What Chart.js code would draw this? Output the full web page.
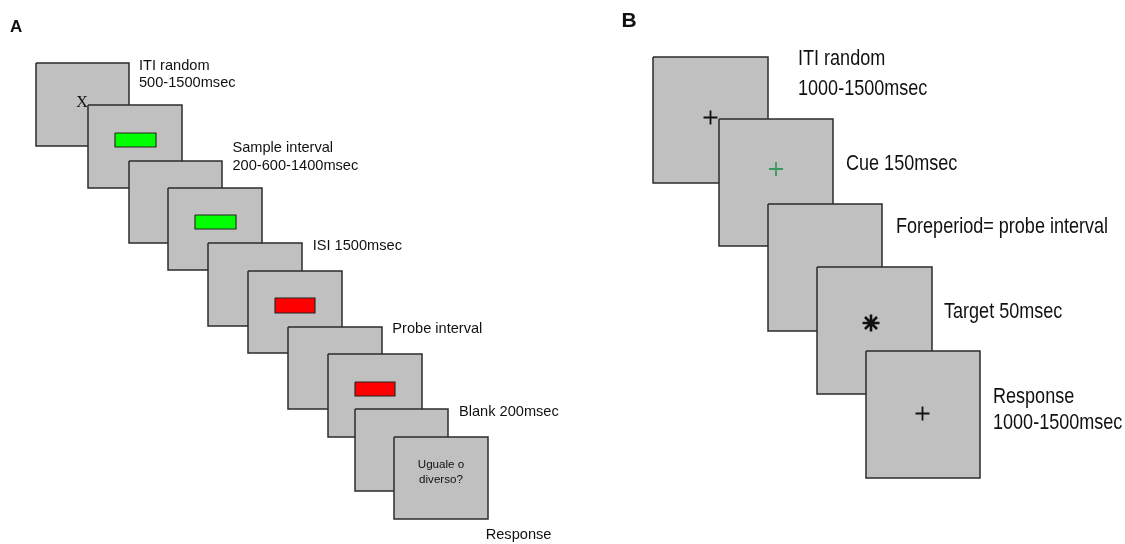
<!DOCTYPE html>
<html><head><meta charset="utf-8">
<script src="https://cdn.jsdelivr.net/npm/chart.js@4/dist/chart.umd.min.js"></script>
<style>html,body{margin:0;padding:0;background:#fff}#wrap{width:1125px;height:544px;position:relative}</style>
</head><body><div id="wrap"><canvas id="c"></canvas></div>
<script>
// ---- Panel A: trial screens (back to front) ----
const screensA_left   = [36, 88, 129, 168, 208, 248, 288, 328, 355, 394];
const screensA_top    = [63, 105, 161, 188, 243, 271, 327, 354, 409, 437];
const screensA_right  = [129, 182, 222, 262, 302, 342, 382, 422, 448, 488];
const screensA_bottom = [146, 188, 243, 270, 326, 353, 409, 437, 491, 519];
// coloured stimulus bars (screen index they sit on)
const barsA_screen = [1, 3, 5, 7];
const barsA_left   = [115, 195, 275, 355];
const barsA_top    = [133, 215, 298, 382];
const barsA_right  = [156, 236, 315, 395];
const barsA_bottom = [147, 229, 313, 396];
const barsA_color  = ['#00ff00', '#00ff00', '#ff0000', '#ff0000'];
const labelsA   = ['ITI random', '500-1500msec', 'Sample interval', '200-600-1400msec', 'ISI 1500msec', 'Probe interval', 'Blank 200msec', 'Response'];
const labelsA_x = [139, 139, 232.5, 232.5, 312.7, 392.3, 459, 485.7];
const labelsA_y = [70, 87, 152, 169.5, 250, 333, 415.5, 539];

// ---- Panel B: trial screens (back to front) ----
const screensB_left   = [653, 719, 768, 817, 866];
const screensB_top    = [57, 119, 204, 267, 351];
const screensB_right  = [768, 833, 882, 932, 980];
const screensB_bottom = [183, 246, 331, 394, 478];
const markersB_screen = [0, 1, 3, 4];
const markersB_x      = [710.5, 776, 871, 922.5];
const markersB_y      = [117.5, 169, 323, 413.5];
const markersB_style  = ['cross', 'cross', 'star', 'cross'];
const markersB_color  = ['#111111', '#3a9a5e', '#111111', '#111111'];
const labelsB   = ['ITI random', '1000-1500msec', 'Cue 150msec', 'Foreperiod= probe interval', 'Target 50msec', 'Response', '1000-1500msec'];
const labelsB_x = [798, 798, 846, 896, 944, 993, 993];
const labelsB_y = [65, 95, 170, 233, 318, 403, 429];

function rect(l, t, r, b) {
  return [{x:l,y:t},{x:r,y:t},{x:r,y:b},{x:l,y:b},{x:l,y:t}];
}

// build datasets back-to-front
const layers = [];
function screenDs(l,t,r,b) {
  return {type:'line', data: rect(l,t,r,b), fill:'shape', backgroundColor:'#c0c0c0',
    borderColor:'#2b2b2b', borderWidth:1.5, pointRadius:0, tension:0, borderJoinStyle:'miter'};
}
for (let i = 0; i < screensA_left.length; i++) {
  layers.push(screenDs(screensA_left[i], screensA_top[i], screensA_right[i], screensA_bottom[i]));
  const k = barsA_screen.indexOf(i);
  if (k >= 0) {
    layers.push({type:'line', data: rect(barsA_left[k], barsA_top[k], barsA_right[k], barsA_bottom[k]),
      fill:'shape', backgroundColor: barsA_color[k], borderColor:'#222', borderWidth:1.1,
      pointRadius:0, tension:0, borderJoinStyle:'miter'});
  }
}
for (let i = 0; i < screensB_left.length; i++) {
  layers.push(screenDs(screensB_left[i], screensB_top[i], screensB_right[i], screensB_bottom[i]));
  const k = markersB_screen.indexOf(i);
  if (k >= 0) {
    const star = markersB_style[k] === 'star';
    layers.push({type:'line', showLine:false, data:[{x:markersB_x[k], y:markersB_y[k]}],
      pointStyle: markersB_style[k], pointRadius: star ? 8.5 : 7, pointBorderWidth: star ? 2.6 : 1.8,
      pointBorderColor: markersB_color[k], pointBackgroundColor: markersB_color[k], fill:false});
  }
}
layers.forEach((d, i) => { d.order = layers.length - i; });

function narrowText(ctx, t, x, y, sx) {
  ctx.save();
  ctx.translate(x, y);
  ctx.scale(sx, 1);
  ctx.fillText(t, 0, 0);
  ctx.restore();
}

const textPlugin = {
  id: 'texts',
  afterDatasetsDraw(chart) {
    const ctx = chart.ctx, xs = chart.scales.x, ys = chart.scales.y;
    ctx.save();
    ctx.fillStyle = '#111';
    ctx.textBaseline = 'alphabetic';
    ctx.textAlign = 'left';
    ctx.font = '14.6px "Liberation Sans", Arial, sans-serif';
    labelsA.forEach((t, i) => ctx.fillText(t, xs.getPixelForValue(labelsA_x[i]), ys.getPixelForValue(labelsA_y[i])));
    ctx.font = '22px "Liberation Sans", Arial, sans-serif';
    labelsB.forEach((t, i) => narrowText(ctx, t, xs.getPixelForValue(labelsB_x[i]), ys.getPixelForValue(labelsB_y[i]), 0.82));
    // panel letters
    ctx.font = 'bold 17px "Liberation Sans", Arial, sans-serif';
    ctx.fillText('A', xs.getPixelForValue(10), ys.getPixelForValue(32));
    ctx.font = 'bold 21px "Liberation Sans", Arial, sans-serif';
    ctx.fillText('B', xs.getPixelForValue(621.5), ys.getPixelForValue(27));
    // text inside screens
    ctx.textAlign = 'center';
    ctx.font = '16px "Liberation Serif", "Times New Roman", serif';
    ctx.fillText('X', xs.getPixelForValue(82), ys.getPixelForValue(107));
    ctx.font = '11.6px "Liberation Sans", Arial, sans-serif';
    ctx.fillText('Uguale o', xs.getPixelForValue(441), ys.getPixelForValue(468));
    ctx.fillText('diverso?', xs.getPixelForValue(441), ys.getPixelForValue(482.5));
    ctx.restore();
  }
};

new Chart(document.getElementById('c'), {
  type: 'line',
  data: { datasets: layers },
  options: {
    responsive: true, maintainAspectRatio: false, animation: false,
    layout: { padding: 0, autoPadding: false },
    plugins: { legend: {display:false}, tooltip: {enabled:false}, title:{display:false} },
    scales: {
      x: { type:'linear', min:0, max:1125, display:false },
      y: { type:'linear', min:0, max:544, reverse:true, display:false }
    }
  },
  plugins: [textPlugin]
});
</script></body></html>
